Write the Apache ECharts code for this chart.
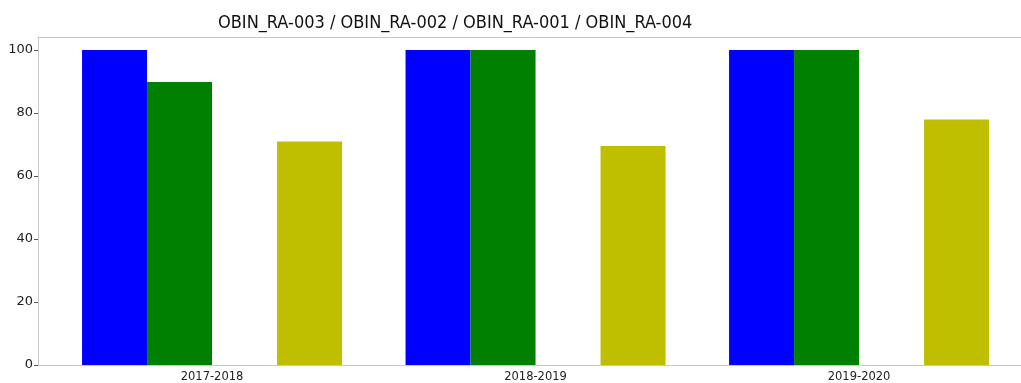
<!DOCTYPE html>
<html>
<head>
<meta charset="utf-8">
<script src="https://cdn.jsdelivr.net/npm/echarts@6/dist/echarts.min.js"></script>
<style>
html, body { margin: 0; padding: 0; background: #fff; }
#chart { width: 1021px; height: 383px; }
</style>
</head>
<body>
<div id="chart"></div>
<script>
// 数据
var categories = ['2017-2018', '2018-2019', '2019-2020'];
var seriesNames = ['OBIN_RA-003', 'OBIN_RA-002', 'OBIN_RA-001', 'OBIN_RA-004'];
var valRA003 = [100, 100, 100];
var valRA002 = [89.8, 100, 100];
var valRA001 = [0, 0, 0];
var valRA004 = [70.9, 69.5, 77.9];
var colors = ['#0000ff', '#008000', '#ff0000', '#bfbf00'];

var myChart = echarts.init(document.getElementById('chart'));

function toPoints(arr) {
	var out = [];
	for (var i = 0; i < arr.length; i++) {
		out.push([i, arr[i]]);
	}
	return out;
}

var spine = { show: true, onZero: false, lineStyle: { color: '#c8c8c8', width: 1 } };
var allVals = [valRA003, valRA002, valRA001, valRA004];
var series = [];
for (var s = 0; s < allVals.length; s++) {
	series.push({
		name: seriesNames[s],
		type: 'bar',
		barWidth: 65,
		barGap: '0%',
		itemStyle: { color: colors[s] },
		data: toPoints(allVals[s])
	});
}

var option = {
	animation: false,
	backgroundColor: '#fff',
	title: {
		text: seriesNames.join(' / '),
		left: 213,
		top: 9,
		textStyle: { fontFamily: 'DejaVu Sans Condensed', fontSize: 18, fontWeight: 'normal', color: '#111' }
	},
	grid: { left: 38, top: 37, bottom: 16, right: 0 },
	xAxis: [{
		type: 'value',
		min: -0.538,
		max: 2.5006,
		splitLine: { show: false },
		axisLine: spine,
		axisTick: { show: false },
		axisLabel: {
			customValues: [0, 1, 2],
			formatter: function (v) { return categories[Math.round(v)]; },
			fontFamily: 'DejaVu Sans', fontSize: 11.5, color: '#222', margin: 6
		}
	}, {
		type: 'value',
		position: 'top',
		min: -0.538,
		max: 2.5006,
		splitLine: { show: false },
		axisLine: spine,
		axisTick: { show: false },
		axisLabel: { show: false }
	}],
	yAxis: {
		type: 'value',
		min: 0,
		max: 104.1,
		interval: 20,
		splitLine: { show: false },
		axisLine: spine,
		axisTick: { show: true, length: 4, lineStyle: { color: '#555' } },
		axisLabel: {
			showMaxLabel: false,
			fontFamily: 'DejaVu Sans', fontSize: 13, color: '#222', margin: 5
		}
	},
	series: series
};
myChart.setOption(option);
</script>
</body>
</html>
